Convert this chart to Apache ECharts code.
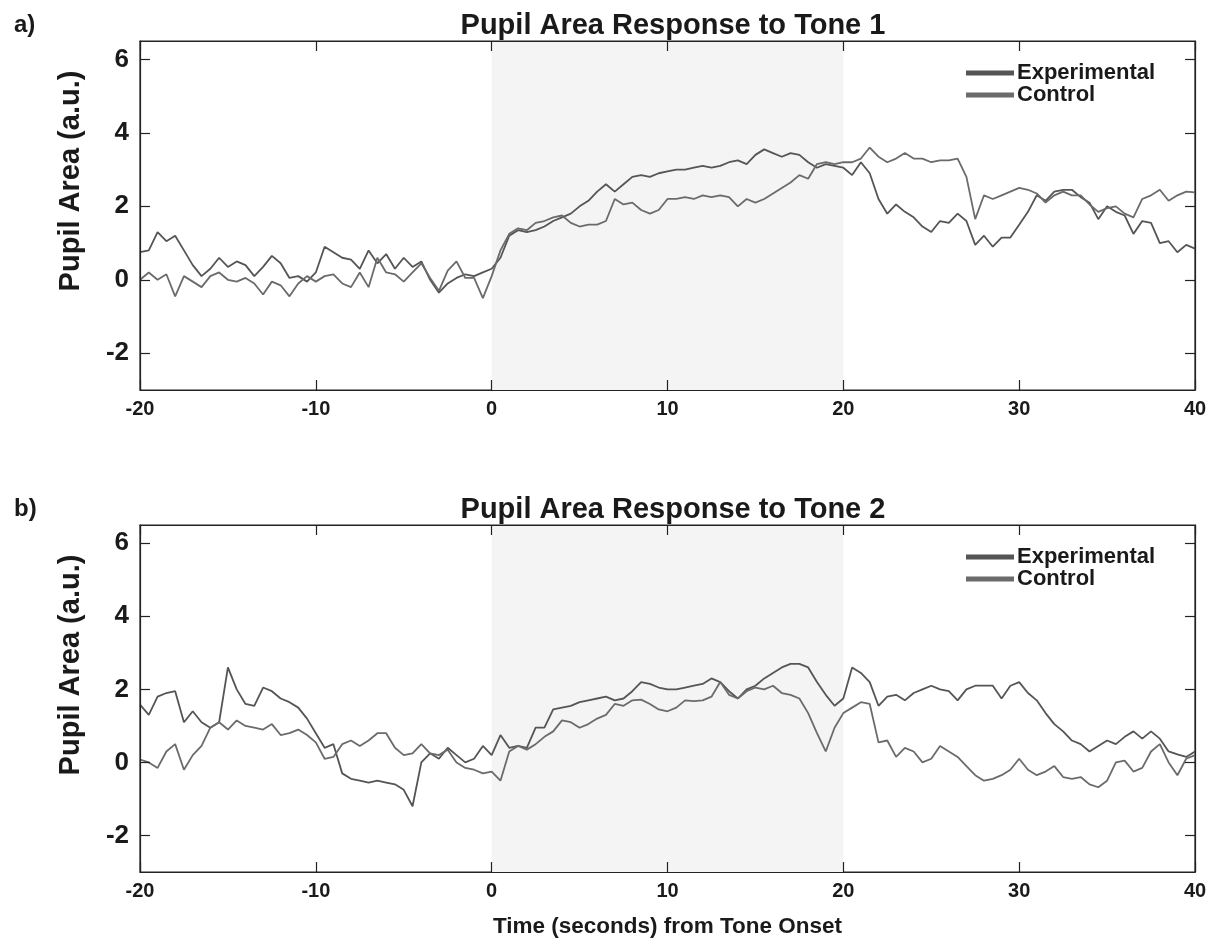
<!DOCTYPE html>
<html>
<head>
<meta charset="utf-8">
<script src="https://cdn.jsdelivr.net/npm/echarts@6/dist/echarts.min.js"></script>
<style>
  html, body { margin: 0; padding: 0; background: #fff; }
  #chart { width: 1217px; height: 939px; }
</style>
</head>
<body>
<div id="chart"></div>
<script>
// time (s) from tone onset, sampled every 0.5 s
const timeSec = [
  -20, -19.5, -19, -18.5, -18, -17.5, -17, -16.5, -16, -15.5,
  -15, -14.5, -14, -13.5, -13, -12.5, -12, -11.5, -11, -10.5,
  -10, -9.5, -9, -8.5, -8, -7.5, -7, -6.5, -6, -5.5,
  -5, -4.5, -4, -3.5, -3, -2.5, -2, -1.5, -1, -0.5,
  0, 0.5, 1, 1.5, 2, 2.5, 3, 3.5, 4, 4.5,
  5, 5.5, 6, 6.5, 7, 7.5, 8, 8.5, 9, 9.5,
  10, 10.5, 11, 11.5, 12, 12.5, 13, 13.5, 14, 14.5,
  15, 15.5, 16, 16.5, 17, 17.5, 18, 18.5, 19, 19.5,
  20, 20.5, 21, 21.5, 22, 22.5, 23, 23.5, 24, 24.5,
  25, 25.5, 26, 26.5, 27, 27.5, 28, 28.5, 29, 29.5,
  30, 30.5, 31, 31.5, 32, 32.5, 33, 33.5, 34, 34.5,
  35, 35.5, 36, 36.5, 37, 37.5, 38, 38.5, 39, 39.5,
  40
];

// tone 1
const tone1Experimental = [
  0.75, 0.8, 1.3, 1.05, 1.2, 0.8, 0.4, 0.1, 0.3, 0.6,
  0.35, 0.5, 0.4, 0.1, 0.35, 0.65, 0.45, 0.05, 0.1, -0.05,
  0.2, 0.9, 0.75, 0.6, 0.55, 0.3, 0.8, 0.45, 0.7, 0.3,
  0.6, 0.35, 0.5, 0.0, -0.35, -0.1, 0.05, 0.15, 0.1, 0.2,
  0.3, 0.6, 1.2, 1.35, 1.3, 1.35, 1.45, 1.6, 1.7, 1.8,
  2.0, 2.15, 2.4, 2.6, 2.4, 2.6, 2.8, 2.85, 2.8, 2.9,
  2.95, 3.0, 3.0, 3.05, 3.1, 3.05, 3.1, 3.2, 3.25, 3.15,
  3.4, 3.55, 3.45, 3.35, 3.45, 3.4, 3.2, 3.05, 3.15, 3.1,
  3.05, 2.85, 3.2, 2.9, 2.2, 1.8, 2.05, 1.85, 1.7, 1.45,
  1.3, 1.6, 1.55, 1.8, 1.6, 0.95, 1.2, 0.9, 1.15, 1.15,
  1.5, 1.85, 2.3, 2.15, 2.4, 2.45, 2.45, 2.25, 2.1, 1.65,
  2.0, 1.85, 1.75, 1.25, 1.6, 1.55, 1.0, 1.05, 0.75, 0.95,
  0.85
];
const tone1Control = [
  0.0, 0.2, 0.0, 0.15, -0.45, 0.1, -0.05, -0.2, 0.1, 0.2,
  0.0, -0.05, 0.05, -0.1, -0.4, -0.05, -0.15, -0.45, -0.1, 0.1,
  -0.05, 0.1, 0.15, -0.1, -0.2, 0.2, -0.2, 0.6, 0.2, 0.15,
  -0.05, 0.2, 0.45, 0.05, -0.3, 0.25, 0.5, 0.05, 0.05, -0.5,
  0.1, 0.8, 1.25, 1.4, 1.35, 1.55, 1.6, 1.7, 1.75, 1.55,
  1.45, 1.5, 1.5, 1.6, 2.2, 2.05, 2.1, 1.9, 1.8, 1.9,
  2.2, 2.2, 2.25, 2.2, 2.3, 2.25, 2.3, 2.25, 2.0, 2.2,
  2.1, 2.2, 2.35, 2.5, 2.65, 2.85, 2.75, 3.15, 3.2, 3.15,
  3.2, 3.2, 3.3, 3.6, 3.35, 3.2, 3.3, 3.45, 3.3, 3.3,
  3.2, 3.25, 3.25, 3.3, 2.8, 1.65, 2.3, 2.2, 2.3, 2.4,
  2.5, 2.45, 2.35, 2.1, 2.3, 2.4, 2.3, 2.3, 2.05, 1.85,
  1.95, 2.0, 1.8, 1.7, 2.2, 2.3, 2.45, 2.15, 2.3, 2.4,
  2.38
];

// tone 2
const tone2Experimental = [
  1.58, 1.3, 1.8, 1.9, 1.95, 1.1, 1.4, 1.1, 0.95, 1.1,
  2.6, 2.0, 1.6, 1.55, 2.05, 1.95, 1.75, 1.65, 1.5, 1.2,
  0.8, 0.4, 0.5, -0.3, -0.45, -0.5, -0.55, -0.5, -0.55, -0.6,
  -0.75, -1.2, 0.0, 0.25, 0.1, 0.4, 0.2, 0.0, 0.1, 0.45,
  0.2, 0.75, 0.4, 0.45, 0.4, 0.95, 0.95, 1.45, 1.5, 1.55,
  1.65, 1.7, 1.75, 1.8, 1.7, 1.75, 1.95, 2.2, 2.15, 2.05,
  2.0, 2.0, 2.05, 2.1, 2.15, 2.3, 2.2, 1.95, 1.75, 2.0,
  2.1, 2.3, 2.45, 2.6, 2.7, 2.7, 2.6, 2.2, 1.85, 1.55,
  1.75, 2.6, 2.45, 2.2, 1.55, 1.8, 1.85, 1.7, 1.9, 2.0,
  2.1, 2.0, 1.95, 1.7, 2.0, 2.1, 2.1, 2.1, 1.75, 2.1,
  2.2, 1.9, 1.7, 1.35, 1.05, 0.85, 0.6, 0.5, 0.3, 0.45,
  0.6, 0.5, 0.7, 0.85, 0.65, 0.85, 0.65, 0.3, 0.22, 0.15,
  0.3
];
const tone2Control = [
  0.08, 0.0, -0.15, 0.3, 0.5, -0.2, 0.2, 0.45, 0.95, 1.1,
  0.9, 1.15, 1.0, 0.95, 0.9, 1.05, 0.75, 0.8, 0.9, 0.75,
  0.55, 0.1, 0.15, 0.5, 0.6, 0.45, 0.6, 0.8, 0.8, 0.4,
  0.2, 0.25, 0.5, 0.25, 0.2, 0.35, 0.0, -0.15, -0.2, -0.3,
  -0.25, -0.5, 0.3, 0.45, 0.35, 0.5, 0.7, 0.85, 1.15, 1.1,
  0.95, 1.05, 1.2, 1.3, 1.6, 1.55, 1.7, 1.72, 1.6, 1.45,
  1.4, 1.5, 1.7, 1.68, 1.7, 1.8, 2.2, 1.85, 1.75, 1.95,
  2.05, 2.0, 2.1, 1.9, 1.85, 1.75, 1.35, 0.8, 0.3, 0.95,
  1.35, 1.5, 1.65, 1.6, 0.55, 0.6, 0.15, 0.4, 0.3, 0.0,
  0.1, 0.45, 0.3, 0.15, -0.1, -0.35, -0.5, -0.45, -0.35, -0.2,
  0.1, -0.2, -0.35, -0.25, -0.1, -0.4, -0.45, -0.4, -0.6, -0.68,
  -0.5, 0.0, 0.05, -0.25, -0.15, 0.3, 0.5, 0.0, -0.35, 0.1,
  0.2
];

const yTicks = [-2, 0, 2, 4, 6];
const toneWindow = [0, 20];
const titles = ["Pupil Area Response to Tone 1", "Pupil Area Response to Tone 2"];
const panelTags = ["a)", "b)"];
const yName = "Pupil Area (a.u.)";

const FONT = "Liberation Sans, Arial, sans-serif";
const INK = "#1a1a1a";
const expColor = "#555555";
const ctlColor = "#6b6b6b";

// grid top/height for each panel
const gridTops = [41, 525];
const gridHeights = [349, 348];

function pairs(vals) {
  return timeSec.map((t, i) => [t, vals[i]]);
}

const chart = echarts.init(document.getElementById("chart"));

const grids = [];
const xAxes = [];
const yAxes = [];
const titleList = [];
const legends = [];
const series = [];
const graphics = [];
const panelData = [
  [tone1Experimental, tone1Control],
  [tone2Experimental, tone2Control],
];

for (let p = 0; p < 2; p++) {
  grids.push({
    left: 140,
    width: 1055,
    top: gridTops[p],
    height: gridHeights[p],
    show: true,
    borderColor: "#222",
    borderWidth: 1.2,
    backgroundColor: "transparent",
  });

  const tickStyle = { inside: true, length: 10, lineStyle: { color: "#222", width: 1.2 } };

  // bottom x
  xAxes.push({
    gridIndex: p,
    type: "value",
    min: -20,
    max: 40,
    interval: 10,
    z: 5,
    axisLine: { show: true, onZero: false, lineStyle: { color: "#222", width: 1.2 } },
    axisTick: tickStyle,
    splitLine: { show: false },
    axisLabel: {
      margin: 9,
      fontFamily: FONT,
      fontWeight: "bold",
      fontSize: 20,
      color: INK,
    },
    name: p === 1 ? "Time (seconds) from Tone Onset" : "",
    nameLocation: "middle",
    nameGap: 43,
    nameTextStyle: { fontFamily: FONT, fontWeight: "bold", fontSize: 22.5, color: INK },
  });
  // top x (ticks only)
  xAxes.push({
    gridIndex: p,
    type: "value",
    position: "top",
    min: -20,
    max: 40,
    interval: 10,
    z: 5,
    axisLine: { show: true, onZero: false, lineStyle: { color: "#222", width: 1.2 } },
    axisTick: tickStyle,
    splitLine: { show: false },
    axisLabel: { show: false },
  });

  // left y
  yAxes.push({
    gridIndex: p,
    type: "value",
    min: -3,
    max: 6.5,
    z: 5,
    axisLine: { show: true, onZero: false, lineStyle: { color: "#222", width: 1.2 } },
    axisTick: Object.assign({ customValues: yTicks }, tickStyle),
    splitLine: { show: false },
    axisLabel: {
      customValues: yTicks,
      margin: 11,
      fontFamily: FONT,
      fontWeight: "bold",
      fontSize: 26,
      color: INK,
    },
  });
  // right y (ticks only)
  yAxes.push({
    gridIndex: p,
    type: "value",
    position: "right",
    min: -3,
    max: 6.5,
    z: 5,
    axisLine: { show: true, onZero: false, lineStyle: { color: "#222", width: 1.2 } },
    axisTick: Object.assign({ customValues: yTicks }, tickStyle),
    splitLine: { show: false },
    axisLabel: { show: false },
  });

  // y axis name sits a bit above the middle of the plot in the original
  graphics.push({
    type: "text",
    x: 71,
    y: gridTops[p] + 140,
    rotation: Math.PI / 2,
    style: {
      text: yName,
      fill: INK,
      font: "bold 29px " + FONT,
      textAlign: "center",
      textVerticalAlign: "middle",
    },
  });

  titleList.push({
    text: titles[p],
    left: 668,
    textAlign: "center",
    top: gridTops[p] - 35,
    textStyle: { fontFamily: FONT, fontWeight: "bold", fontSize: 29, color: INK },
  });
  titleList.push({
    text: panelTags[p],
    left: 9,
    top: gridTops[p] - 33,
    textStyle: { fontFamily: FONT, fontWeight: "bold", fontSize: 24, color: INK },
  });

  legends.push({
    orient: "vertical",
    left: 966,
    top: gridTops[p] + 21,
    icon: "rect",
    itemWidth: 48,
    itemHeight: 5,
    itemGap: 0,
    padding: 0,
    data: ["Experimental", "Control"],
    textStyle: { fontFamily: FONT, fontWeight: "bold", fontSize: 22, color: INK, padding: [0, 0, 0, -2] },
  });

  series.push({
    name: "Experimental",
    type: "line",
    xAxisIndex: p * 2,
    yAxisIndex: p * 2,
    data: pairs(panelData[p][0]),
    showSymbol: false,
    symbol: "none",
    lineStyle: { width: 1.8, color: expColor },
    itemStyle: { color: expColor },
    z: 3,
    markArea: {
      silent: true,
      itemStyle: { color: "#f4f4f4" },
      data: [[{ xAxis: toneWindow[0] }, { xAxis: toneWindow[1] }]],
    },
  });
  series.push({
    name: "Control",
    type: "line",
    xAxisIndex: p * 2,
    yAxisIndex: p * 2,
    data: pairs(panelData[p][1]),
    showSymbol: false,
    symbol: "none",
    lineStyle: { width: 1.8, color: ctlColor },
    itemStyle: { color: ctlColor },
    z: 3,
  });
}

chart.setOption({
  backgroundColor: "#ffffff",
  animation: false,
  title: titleList,
  legend: legends,
  grid: grids,
  xAxis: xAxes,
  yAxis: yAxes,
  graphic: graphics,
  series: series,
});
</script>
</body>
</html>
